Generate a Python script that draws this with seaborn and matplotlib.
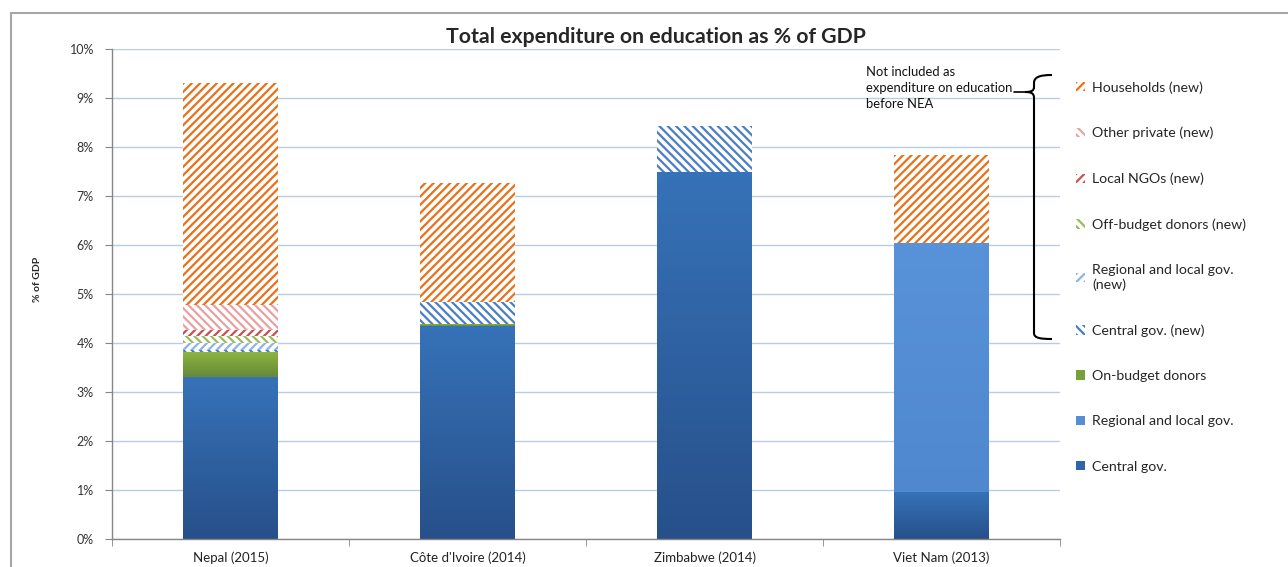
import numpy as np
import pandas as pd
import matplotlib

matplotlib.use('Agg')
import matplotlib.pyplot as plt
import seaborn as sns
from matplotlib.patches import Patch, PathPatch
from matplotlib.path import Path
from matplotlib.colors import LinearSegmentedColormap
from matplotlib.lines import Line2D

# data, % of GDP
countries = ["Nepal (2015)", "Côte d'Ivoire (2014)", "Zimbabwe (2014)", "Viet Nam (2013)"]
central_gov = [3.30, 4.34, 7.48, 0.94]
regional_gov = [0.00, 0.00, 0.00, 5.09]
on_budget = [0.51, 0.04, 0.00, 0.00]
central_new = [0.05, 0.45, 0.95, 0.00]
regional_new = [0.14, 0.00, 0.00, 0.00]
off_budget = [0.15, 0.00, 0.00, 0.00]
local_ngos = [0.11, 0.00, 0.00, 0.00]
other_private = [0.51, 0.00, 0.00, 0.00]
households = [4.53, 2.44, 0.00, 1.80]

yticks = list(range(11))
ytick_labels = [f"{t}%" for t in yticks]

# layers bottom -> top: (label, values, colour, hatch, gradient(top, bottom))
layers = [
    ("Central gov.", central_gov, "#2f64a6", None, ("#3672b8", "#27508a")),
    ("Regional and local gov.", regional_gov, "#558ed5", None, ("#5892d8", "#4f88cf")),
    ("On-budget donors", on_budget, "#77a03a", None, ("#8cb440", "#66893a")),
    ("Central gov. (new)", central_new, "#4a7ec0", "\\\\\\\\", None),
    ("Regional and local gov.\n(new)", regional_new, "#8db4e2", "////", None),
    ("Off-budget donors (new)", off_budget, "#9bbb59", "\\\\\\\\", None),
    ("Local NGOs (new)", local_ngos, "#c8504e", "////", None),
    ("Other private (new)", other_private, "#e6a3a3", "\\\\\\\\", None),
    ("Households (new)", households, "#e8711a", "////", None),
]

sns.set_style("white")
plt.rcParams['font.family'] = ['Lato', 'DejaVu Sans']
plt.rcParams['hatch.linewidth'] = 1.6

fig = plt.figure(figsize=(12.88, 5.67), dpi=100)
W, H = 1288, 567


def fx(px):
    return px / W


def fy(py):
    return 1 - py / H


ax = fig.add_axes([fx(112), 28 / H, 948 / W, 490 / H])

# cumulative tops, drawn from the top layer down so each bar covers the one above
vals = np.array([l[1] for l in layers])
cums = np.cumsum(vals, axis=0)

for i in reversed(range(len(layers))):
    label, v, col, hatch, grad = layers[i]
    df = pd.DataFrame({"country": countries, "top": cums[i]})
    n0 = len(ax.patches)
    if hatch:
        sns.barplot(data=df, x="country", y="top", color="white", saturation=1,
                    width=0.4, errorbar=None, hatch=hatch, edgecolor=col,
                    linewidth=0, ax=ax, zorder=2)
    else:
        sns.barplot(data=df, x="country", y="top", color=col, saturation=1,
                    width=0.4, errorbar=None, linewidth=0, ax=ax, zorder=2)
        cmap = LinearSegmentedColormap.from_list("g", [grad[1], grad[0]])
        grad_img = np.linspace(0, 1, 64).reshape(-1, 1)
        for j, bar in enumerate(ax.patches[n0:]):
            if v[j] <= 0:
                continue
            x0 = bar.get_x()
            ax.imshow(grad_img, cmap=cmap, origin='lower', aspect='auto',
                      extent=[x0, x0 + bar.get_width(), cums[i][j] - v[j], cums[i][j]],
                      zorder=2.5)

ax.set_xlim(-0.5, 3.5)
ax.set_ylim(0, 10)
ax.set_aspect('auto')

ax.set_yticks(yticks)
ax.set_yticklabels(ytick_labels)
ax.set_xticks(range(len(countries)))
ax.set_xticklabels(countries)
ax.set_xticks([-0.5, 0.5, 1.5, 2.5, 3.5], minor=True)
ax.tick_params(axis='x', which='major', length=0, pad=9, labelsize=9.5, labelcolor='#222222')
ax.tick_params(axis='x', which='minor', length=5, color='#868686', direction='out', bottom=True)
ax.tick_params(axis='y', length=5, color='#868686', direction='out', left=True, pad=8,
               labelsize=9, labelcolor='#333333')
ax.set_xlabel("")
ax.set_ylabel("% of GDP", fontsize=7.5, fontweight='bold')
ax.yaxis.set_label_coords((42 - 112) / 948, 0.53)

ax.yaxis.grid(True, color='#b9cde5', linewidth=1)
ax.set_axisbelow(True)
for s in ['top', 'right']:
    ax.spines[s].set_visible(False)
for s in ['left', 'bottom']:
    ax.spines[s].set_color('#868686')
    ax.spines[s].set_linewidth(1)

fig.text(fx(656), fy(37), "Total expenditure on education as % of GDP",
         ha='center', va='center', fontsize=15.3, fontweight='bold')

# legend, top entry first
handles = []
for label, v, col, hatch, grad in reversed(layers):
    if hatch:
        handles.append(Patch(facecolor='white', edgecolor=col, hatch=hatch, linewidth=0, label=label))
    else:
        handles.append(Patch(facecolor=col, edgecolor=col, linewidth=0, label=label))
fig.legend(handles=handles, loc='upper left', bbox_to_anchor=(fx(1076), fy(81)),
           bbox_transform=fig.transFigure, frameon=False, fontsize=10.2,
           handlelength=0.65, handleheight=0.65, handletextpad=0.5,
           labelspacing=2.35, borderpad=0, borderaxespad=0)

# note and brace
fig.text(fx(866), fy(88), "Not included as\nexpenditure on education\nbefore NEA",
         ha='left', va='center', fontsize=9.4, linespacing=1.4, color='#111111')

pts = [(1052, 75), (1040, 75), (1034, 77), (1034, 83),
       (1034, 87),
       (1034, 91), (1031, 92), (1025, 92),
       (1031, 92), (1034, 93), (1034, 98),
       (1034, 333),
       (1034, 338), (1040, 339), (1052, 339)]
codes = [Path.MOVETO, Path.CURVE4, Path.CURVE4, Path.CURVE4,
         Path.LINETO,
         Path.CURVE4, Path.CURVE4, Path.CURVE4,
         Path.CURVE4, Path.CURVE4, Path.CURVE4,
         Path.LINETO,
         Path.CURVE4, Path.CURVE4, Path.CURVE4]
brace = Path([(fx(x), fy(y)) for x, y in pts], codes)
fig.add_artist(PathPatch(brace, facecolor='none', edgecolor='black', linewidth=1.5,
                         transform=fig.transFigure))
fig.add_artist(Line2D([fx(1014), fx(1025)], [fy(92), fy(92)], color='black', linewidth=1.2,
                      transform=fig.transFigure))

# outer chart border (top and left visible)
fig.add_artist(Line2D([fx(11), fx(1288)], [fy(13), fy(13)], color='#a6a6a6', linewidth=1.5,
                      transform=fig.transFigure))
fig.add_artist(Line2D([fx(11), fx(11)], [fy(13), fy(567)], color='#a6a6a6', linewidth=1.5,
                      transform=fig.transFigure))

fig.savefig('out.png', dpi=100)
